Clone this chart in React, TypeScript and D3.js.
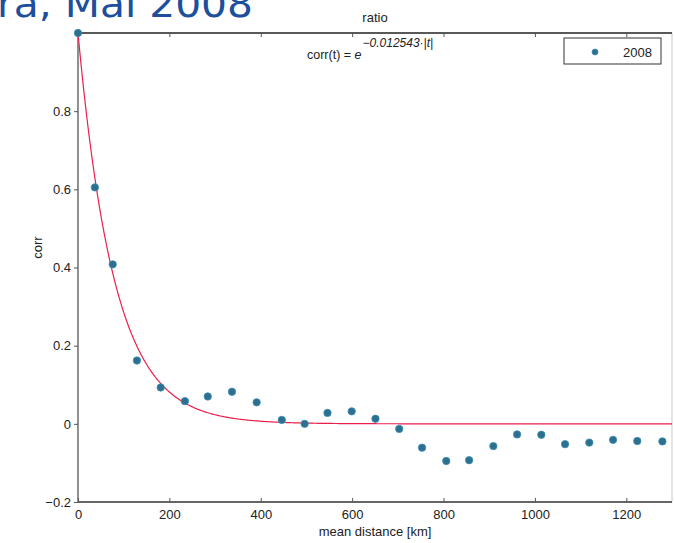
import React, { useEffect, useRef } from 'react';
import * as d3 from 'd3';

// mean distance [km] of each bin and the correlation
const distances = [0, 37, 76, 129, 181, 234, 284, 337, 391, 446, 496, 546, 599, 651, 703, 753, 806, 856, 909, 961, 1014, 1066, 1119, 1171, 1224, 1279];
const corrValues = [1.0, 0.605, 0.408, 0.162, 0.093, 0.058, 0.07, 0.082, 0.055, 0.01, 0.0, 0.028, 0.032, 0.013, -0.013, -0.061, -0.095, -0.093, -0.057, -0.027, -0.028, -0.052, -0.048, -0.041, -0.044, -0.045];
const xTicks = [0, 200, 400, 600, 800, 1000, 1200];
const yTicks = [-0.2, 0, 0.2, 0.4, 0.6, 0.8];
const fitRate = 0.012543;
const seriesName = '2008';

const W = 674;
const H = 543;

const App: React.FC = () => {
  const svgRef = useRef<SVGSVGElement>(null);

  useEffect(() => {
    if (!svgRef.current) return;
    const svg = d3.select(svgRef.current);
    svg.selectAll('*').remove();

    const margin = { top: 33, right: 2, bottom: 41, left: 78 };
    const innerWidth = W - margin.left - margin.right;
    const innerHeight = H - margin.top - margin.bottom;

    const font = 'Liberation Sans, Arial, sans-serif';

    // slide title, cut off at the top-left like the original
    svg.append('text')
      .attr('x', -3)
      .attr('y', 17)
      .attr('fill', '#1d4f9e')
      .style('font-family', 'DejaVu Sans, Verdana, sans-serif')
      .style('font-size', '38px')
      .attr('textLength', 256)
      .attr('lengthAdjust', 'spacingAndGlyphs')
      .text('ra, Mai 2008');

    const g = svg.append('g').attr('transform', `translate(${margin.left},${margin.top})`);

    const xScale = d3.scaleLinear().domain([0, 1300]).range([0, innerWidth]);
    const yScale = d3.scaleLinear().domain([-0.2, 1]).range([innerHeight, 0]);

    // fitted exponential
    const fitX = d3.range(0, 1301, 2);
    const line = d3.line<number>()
      .x((d) => xScale(d))
      .y((d) => yScale(Math.exp(-fitRate * Math.abs(d))));

    // box
    g.append('line').attr('x1', innerWidth).attr('x2', innerWidth).attr('y1', 0).attr('y2', innerHeight)
      .attr('stroke', '#c8c8c8').attr('stroke-width', 1);
    g.append('line').attr('x1', 0).attr('x2', innerWidth).attr('y1', 0).attr('y2', 0)
      .attr('stroke', '#222').attr('stroke-width', 1.3);
    g.append('line').attr('x1', 0).attr('x2', innerWidth).attr('y1', innerHeight).attr('y2', innerHeight)
      .attr('stroke', '#333').attr('stroke-width', 1.3);
    g.append('line').attr('x1', 0).attr('x2', 0).attr('y1', 0).attr('y2', innerHeight)
      .attr('stroke', '#555').attr('stroke-width', 1.3);

    // bottom axis: ticks inward
    const xAxis = g.append('g').attr('transform', `translate(0,${innerHeight})`)
      .call(d3.axisBottom(xScale).tickValues(xTicks).tickSizeInner(-4).tickSizeOuter(0).tickPadding(8).tickFormat(d3.format('d')));
    xAxis.select('.domain').remove();
    xAxis.selectAll('line').attr('stroke', '#555');
    xAxis.selectAll('text').style('font-family', font).style('font-size', '13px').attr('fill', '#222');

    // top axis ticks
    const topAxis = g.append('g')
      .call(d3.axisTop(xScale).tickValues(xTicks).tickSizeInner(-4).tickSizeOuter(0).tickFormat(() => ''));
    topAxis.select('.domain').remove();
    topAxis.selectAll('line').attr('stroke', '#555');

    // left axis
    const yAxis = g.append('g')
      .call(d3.axisLeft(yScale).tickValues(yTicks).tickSizeInner(4).tickSizeOuter(0).tickPadding(3)
        .tickFormat((d) => (d === 0 ? '0' : d3.format('.1f')(d as number).replace('-', '\u2212'))));
    yAxis.select('.domain').remove();
    yAxis.selectAll('line').attr('stroke', '#555');
    yAxis.selectAll('text').style('font-family', font).style('font-size', '13px').attr('fill', '#222');

    g.append('path')
      .datum(fitX)
      .attr('fill', 'none')
      .attr('stroke', '#ec1f4b')
      .attr('stroke-width', 1.2)
      .attr('d', line);

    g.selectAll('.pt')
      .data(distances.map((d, i) => ({ x: d, y: corrValues[i] })))
      .enter()
      .append('circle')
      .attr('class', 'pt')
      .attr('cx', (d) => xScale(d.x))
      .attr('cy', (d) => yScale(d.y))
      .attr('r', 3.7)
      .attr('fill', '#2c6f8e')
      .attr('stroke', '#3d8fb5')
      .attr('stroke-width', 0.8);

    // title and labels
    svg.append('text')
      .attr('x', margin.left + innerWidth / 2)
      .attr('y', 22)
      .attr('text-anchor', 'middle')
      .style('font-family', font)
      .style('font-size', '13px')
      .attr('fill', '#222')
      .text('ratio');

    svg.append('text')
      .attr('x', margin.left + innerWidth / 2)
      .attr('y', 536)
      .attr('text-anchor', 'middle')
      .style('font-family', font)
      .style('font-size', '13px')
      .attr('fill', '#222')
      .text('mean distance [km]');

    svg.append('text')
      .attr('transform', `translate(42,${margin.top + innerHeight / 2 - 20}) rotate(-90)`)
      .attr('text-anchor', 'middle')
      .style('font-family', font)
      .style('font-size', '13px')
      .attr('fill', '#222')
      .text('corr');

    // fit equation
    const eq = svg.append('text')
      .attr('x', 307)
      .attr('y', 59)
      .style('font-family', font)
      .style('font-size', '12.5px')
      .attr('fill', '#222');
    eq.append('tspan').text('corr(t) = ');
    eq.append('tspan').style('font-style', 'italic').text('e');
    eq.append('tspan')
      .attr('dy', -12)
      .attr('dx', 1)
      .style('font-size', '12px')
      .style('font-style', 'italic')
      .text(`\u2212${fitRate}\u00b7|t|`);

    // legend
    const legend = svg.append('g').attr('transform', 'translate(564,38)');
    legend.append('rect')
      .attr('width', 97)
      .attr('height', 26)
      .attr('fill', '#fff')
      .attr('stroke', '#333')
      .attr('stroke-width', 1);
    legend.append('circle')
      .attr('cx', 31)
      .attr('cy', 14)
      .attr('r', 3)
      .attr('fill', '#2c6f8e')
      .attr('stroke', '#3d8fb5')
      .attr('stroke-width', 0.8);
    legend.append('text')
      .attr('x', 59)
      .attr('y', 19)
      .style('font-family', font)
      .style('font-size', '13px')
      .attr('fill', '#222')
      .text(seriesName);
  }, []);

  return (
    <svg
      ref={svgRef}
      width={W}
      height={H}
      viewBox={`0 0 ${W} ${H}`}
      style={{ position: 'absolute', left: 0, top: 0, background: '#fff' }}
    />
  );
};

export default App;
